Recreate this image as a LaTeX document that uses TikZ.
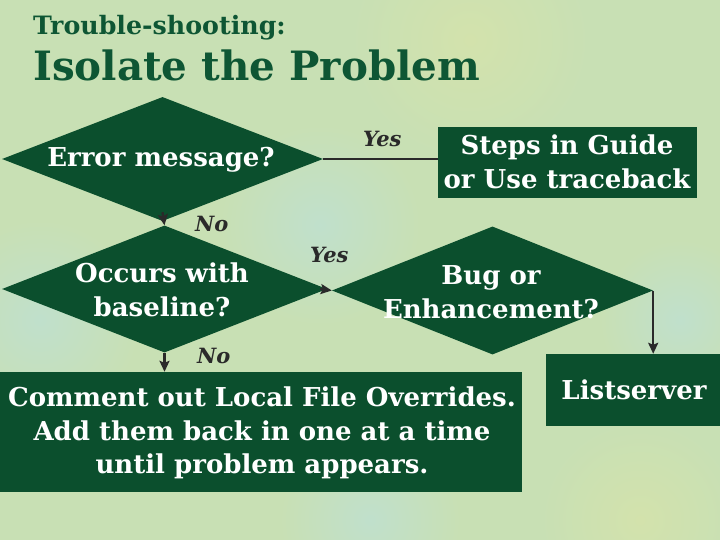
\documentclass[tikz,border=0pt]{standalone}
\usepackage{fontspec}
\setmainfont{DejaVu Serif}
\usetikzlibrary{shapes.geometric,arrows.meta}
\definecolor{pine}{HTML}{0B4F2D}
\definecolor{titlegreen}{HTML}{0E5634}
\definecolor{ink}{HTML}{2A2A2A}
\definecolor{paper}{HTML}{C8E0B4}
\definecolor{paperyellow}{HTML}{D3E2AC}
\definecolor{paperblue}{HTML}{C0E0CC}
\begin{document}
\begin{tikzpicture}[x=1pt,y=-1pt,
  decision/.style={diamond, fill=pine, inner sep=0pt, draw=none},
  stepbox/.style={rectangle, fill=pine, inner sep=0pt, draw=none},
  boxtext/.style={text=white, font=\bfseries\fontsize{26}{33.5}\selectfont, align=center, inner sep=0pt},
  answer/.style={text=ink, font=\bfseries\itshape\fontsize{21}{23}\selectfont, anchor=base west, inner sep=0pt},
  link/.style={draw=ink, line width=2.4pt},
  flow/.style={link, -{Stealth[length=11pt,width=10pt,inset=2pt]}},
  tint/.style={inner color=#1, outer color=paper}]

% paper background with soft tinted patches
\useasboundingbox (0,0) rectangle (720,540);
\fill[paper] (0,0) rectangle (720,540);
\begin{scope}
\clip (0,0) rectangle (720,540);
\shade[tint=paperyellow] (470,40) circle (120);
\shade[tint=paperyellow] (640,520) circle (100);
\shade[tint=paperblue] (320,225) circle (100);
\shade[tint=paperblue] (680,320) circle (80);
\shade[tint=paperblue] (40,320) circle (100);
\shade[tint=paperblue] (370,520) circle (90);
\end{scope}

% heading
\node[anchor=base west, inner sep=0pt, text=titlegreen, font=\bfseries\fontsize{25.3}{28}\selectfont] (kicker) at (33,35) {Trouble-shooting:};
\node[anchor=base west, inner sep=0pt, text=titlegreen, font=\bfseries\fontsize{40.4}{44}\selectfont] (heading) at (33,81) {Isolate the Problem};

% decisions
\node[decision, minimum width=321pt, minimum height=124pt] (d1) at (162.5,159) {};
\node[decision, minimum width=325pt, minimum height=127pt] (d2) at (164.5,289) {};
\node[decision, minimum width=321pt, minimum height=128pt] (d3) at (492.5,290.5) {};
\node[boxtext] (t1) at (161,160) {Error message?};
\node[boxtext] (t2) at (162,290) {Occurs with\\baseline?};
\node[boxtext] (t3) at (491,292) {Bug or\\Enhancement?};

% actions
\node[stepbox, minimum width=259pt, minimum height=71pt] (b1) at (567.5,162.5) {};
\node[boxtext] (bt1) at (567,162) {Steps in Guide\\or Use traceback};
\node[stepbox, minimum width=176pt, minimum height=72pt] (b2) at (634,390) {};
\node[boxtext] (bt2) at (634,390) {Listserver};
\node[stepbox, minimum width=524pt, minimum height=120pt] (b3) at (260,432) {};
\node[boxtext] (bt3) at (262,433) {Comment out Local File Overrides.\\Add them back in one at a time\\until problem appears.};

% connectors
\draw[link] (d1.east) -- (d1.east -| b1.west);
\draw[flow] ([yshift=9pt]d1.south) -- (d2.north);
\draw[flow] ([xshift=-7pt]d2.east) -- (d3.west);
\draw[flow] (d3.east) -- (d3.east |- b2.north);
\draw[flow] (d2.south) -- (d2.south |- b3.north);

% answers
\node[answer] (yes1) at (363,147) {Yes};
\node[answer] (no1) at (195,232) {No};
\node[answer] (yes2) at (310,262) {Yes};
\node[answer] (no2) at (197,363) {No};
\end{tikzpicture}
\end{document}
